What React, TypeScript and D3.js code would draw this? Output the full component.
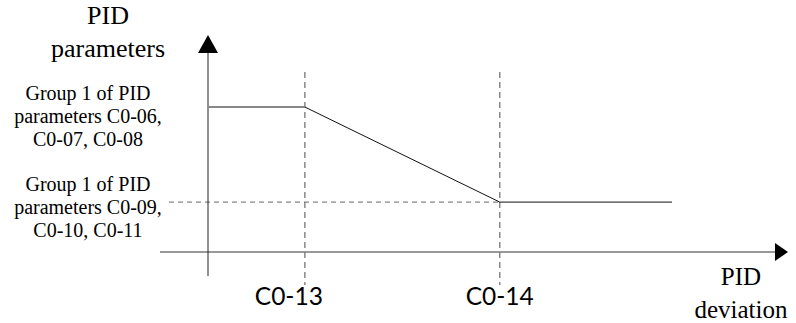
import React from "react";
import * as d3 from "d3";

const W = 796;
const H = 323;

// Breakpoints along the PID deviation axis (arbitrary units)
const xTickLabels = ["C0-13", "C0-14"];
const xTickValues = [1.67, 5.03];
const xLineEnd = 8.0;

// PID parameter levels (arbitrary units)
const levelValues = [6.68, 2.3];
const levelLabels = [
  ["Group 1 of PID", "parameters C0-06,", "C0-07, C0-08"],
  ["Group 1 of PID", "parameters C0-09,", "C0-10, C0-11"],
];
const yAxisTitle = ["PID", "parameters"];
const xAxisTitle = ["PID", "deviation"];

// curve: points (deviation, parameter)
const curveX = [0, xTickValues[0], xTickValues[1], xLineEnd];
const curveY = [levelValues[0], levelValues[0], levelValues[1], levelValues[1]];

export default function App() {
  const x = d3.scaleLinear().domain([0, 10]).range([208, 788]);
  const y = d3.scaleLinear().domain([0, 10]).range([252, 35]);
  const serif = '"Liberation Serif", "DejaVu Serif", "Times New Roman", Times, serif';
  const sans = 'Lato, "Liberation Sans", sans-serif';
  const pts = curveX.map((v, i) => [x(v), y(curveY[i])] as [number, number]);
  const line = d3.line();

  const x0 = x(0);
  const yBase = y(0);
  const serifStyle = { fontFamily: serif };
  const tickLabelShift = [-16, 0];

  return (
    <svg
      width={W}
      height={H}
      style={{ position: "absolute", left: 0, top: 0, background: "#fff" }}
    >
      {/* dashed guides */}
      {xTickValues.map((v, i) => (
        <line
          key={"v" + i}
          x1={x(v)}
          x2={x(v)}
          y1={72}
          y2={285}
          stroke="#888"
          strokeWidth={1.5}
          strokeDasharray="6,4"
        />
      ))}
      <line
        x1={169}
        x2={x(xTickValues[1])}
        y1={y(levelValues[1])}
        y2={y(levelValues[1])}
        stroke="#666"
        strokeWidth={1}
        strokeDasharray="5,4"
      />
      {/* axes */}
      <line x1={160} x2={x(10) - 12} y1={yBase} y2={yBase} stroke="#777" strokeWidth={1.5} />
      <path
        d={`M${x(10)},${yBase} L${x(10) - 13},${yBase - 9} L${x(10) - 13},${yBase + 9} Z`}
        fill="#000"
      />
      <line x1={x0} x2={x0} y1={276} y2={y(10) + 16} stroke="#222" strokeWidth={1} />
      <path
        d={`M${x0},${y(10)} L${x0 - 10},${y(10) + 18} L${x0 + 10},${y(10) + 18} Z`}
        fill="#000"
      />
      {/* curve */}
      <path d={line(pts.slice(0, 2)) || ""} stroke="#888" strokeWidth={2} fill="none" />
      <path d={line(pts.slice(1)) || ""} stroke="#111" strokeWidth={1} fill="none" />
      {/* x tick labels */}
      {xTickLabels.map((t, i) => (
        <text
          key={t}
          x={x(xTickValues[i]) + tickLabelShift[i]}
          y={305}
          textAnchor="middle"
          style={{ fontFamily: sans, fontSize: 24.5 }}
          fill="#000"
        >
          {t}
        </text>
      ))}
      {/* y axis title */}
      {yAxisTitle.map((t, i) => (
        <text key={t} x={108} y={24 + i * 33} textAnchor="middle" style={{ ...serifStyle, fontSize: 26 }}>
          {t}
        </text>
      ))}
      {/* level labels */}
      {levelLabels.map((lines, k) =>
        lines.map((t, i) => (
          <text
            key={k + "-" + i}
            x={88}
            y={(k === 0 ? 100 : 191) + i * 23}
            textAnchor="middle"
            style={{ ...serifStyle, fontSize: 20 }}
          >
            {t}
          </text>
        ))
      )}
      {/* x axis title */}
      {xAxisTitle.map((t, i) => (
        <text key={t} x={741} y={285 + i * 33} textAnchor="middle" style={{ ...serifStyle, fontSize: 25 }}>
          {t}
        </text>
      ))}
    </svg>
  );
}
